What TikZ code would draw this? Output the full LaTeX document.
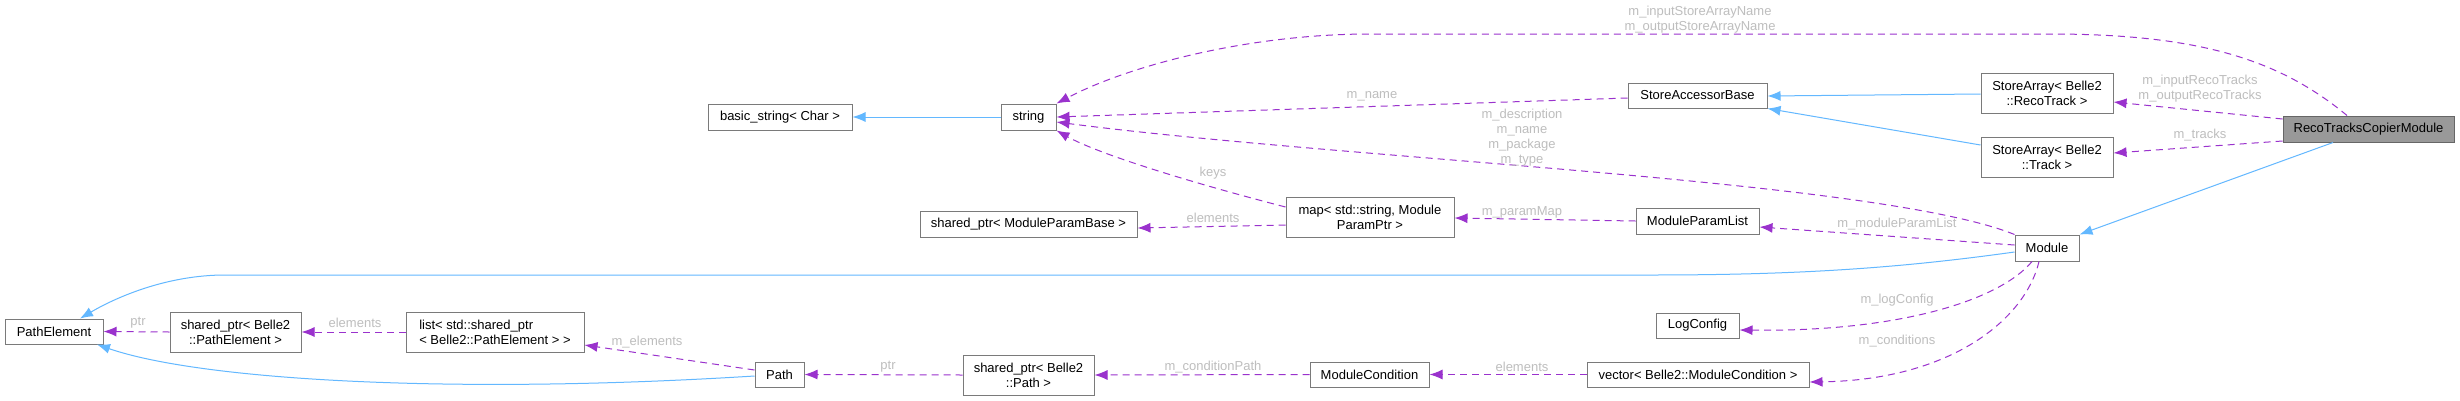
\documentclass[tikz,border=0pt]{standalone}
\usepackage{fontspec}
\setmainfont{Liberation Sans}
\usetikzlibrary{arrows.meta,calc}
\definecolor{nodeborder}{HTML}{7A7A7A}
\definecolor{rootfill}{HTML}{999999}
\definecolor{inhblue}{HTML}{63B8FF}
\definecolor{usepurple}{HTML}{9A32CD}
\definecolor{lblgray}{HTML}{BEBEBE}
\newcommand{\nf}{\fontsize{13}{15}\selectfont}
\tikzset{
  cls/.style={draw=nodeborder, fill=white, line width=1pt, inner sep=0pt, font=\nf, align=center},
  lbl/.style={text=lblgray, font=\nf, inner sep=0pt, align=center},
  inh/.style={draw=inhblue, line width=1pt, -{Latex[length=13pt,width=10pt]}},
  usage/.style={draw=usepurple, line width=1pt, dash pattern=on 7pt off 5pt, -{Latex[length=13pt,width=10pt]}},
}
\begin{document}
\begin{tikzpicture}[x=1pt,y=-1pt]
\fill[white] (0,0) rectangle (2460,400);
\useasboundingbox (0,0) rectangle (2460,400);
% nodes
\node[cls, minimum width=98pt, minimum height=25pt] (PE) at (54,331.5) {PathElement};
\node[cls, minimum width=131pt, minimum height=40pt] (spPE) at (235.5,332) {shared\_ptr< Belle2\\::PathElement >};
\node[cls, minimum width=178pt, minimum height=40pt, align=left] (listPE) at (495,332) {list< std::shared\_ptr\\< Belle2::PathElement > >};
\node[cls, minimum width=49pt, minimum height=25pt] (Path) at (779.5,374.5) {Path};
\node[cls, minimum width=144pt, minimum height=26pt] (bstr) at (780,117) {basic\_string< Char >};
\node[cls, minimum width=55pt, minimum height=26pt] (str) at (1028.5,117) {string};
\node[cls, minimum width=217pt, minimum height=26pt] (spMPB) at (1028.5,224) {shared\_ptr< ModuleParamBase >};
\node[cls, minimum width=168pt, minimum height=40pt] (map) at (1370,217) {map< std::string, Module\\ParamPtr >};
\node[cls, minimum width=131pt, minimum height=40pt] (spPath) at (1028.5,375) {shared\_ptr< Belle2\\::Path >};
\node[cls, minimum width=119pt, minimum height=25pt] (MC) at (1369.5,374.5) {ModuleCondition};
\node[cls, minimum width=222pt, minimum height=25pt] (vec) at (1698,374.5) {vector< Belle2::ModuleCondition >};
\node[cls, minimum width=139pt, minimum height=25pt] (SAB) at (1697.5,95.5) {StoreAccessorBase};
\node[cls, minimum width=132pt, minimum height=40pt] (SAR) at (2047,93) {StoreArray< Belle2\\::RecoTrack >};
\node[cls, minimum width=132pt, minimum height=40pt] (SAT) at (2047,157) {StoreArray< Belle2\\::Track >};
\node[cls, fill=rootfill, draw=black!60, minimum width=171pt, minimum height=26pt] (RTCM) at (2368.5,129) {RecoTracksCopierModule};
\node[cls, minimum width=123pt, minimum height=26pt] (MPL) at (1697.5,221) {ModuleParamList};
\node[cls, minimum width=64pt, minimum height=26pt] (Mod) at (2047,248) {Module};
\node[cls, minimum width=83pt, minimum height=25pt] (LC) at (1697.5,325.5) {LogConfig};
% inheritance edges
\draw[inh] (str.west) -- (bstr.east);
\draw[inh] ($(SAR.west)+(0,1)$) -- ($(SAB.east)+(0,0.5)$);
\draw[inh] ($(SAT.west)+(0,-12)$) -- (SAB.south east);
\draw[inh] ($(RTCM.south)+(-35.5,0)$) -- (Mod.north east);
\draw[inh] ($(Mod.west)+(0,4)$) .. controls (1900,268) and (1800,275) .. (1650,275) -- (225,275) .. controls (170,275) and (120,295) .. ($(PE.north)+(26,0)$);
\draw[inh] ($(Path.west)+(0,1.5)$) .. controls (450,395) and (200,380) .. ($(PE.south)+(43,0)$);
% usage edges
\draw[usage] (spPath.west) -- (Path.east);
\draw[usage] (MC.west) -- (spPath.east);
\draw[usage] (vec.west) -- (MC.east);
\draw[usage] ($(Mod.south)+(-8,0)$) .. controls (2025,320) and (1950,380) .. ($(vec.east)+(0,7.5)$);
\draw[usage] ($(Mod.south)+(-15,0)$) .. controls (2000,300) and (1900,332) .. ($(LC.east)+(0,4.5)$);
\draw[usage] ($(Mod.west)+(0,-3)$) -- ($(MPL.east)+(0,6)$);
\draw[usage] (MPL.west) -- ($(map.east)+(0,1)$);
\draw[usage] ($(map.west)+(0,8)$) -- ($(spMPB.east)+(0,4)$);
\draw[usage] ($(map.west)+(0,-10)$) .. controls (1200,185) and (1100,155) .. (str.south east);
\draw[usage] ($(SAB.west)+(0,2.5)$) -- (str.east);
\draw[usage] (Mod.north west) .. controls (1880,180) and (1350,160) .. ($(str.east)+(0,5)$);
\draw[usage] ($(RTCM.north)+(-21.5,0)$) .. controls (2280,60) and (2200,34) .. (2050,34) -- (1370,34) .. controls (1250,34) and (1130,65) .. (str.north east);
\draw[usage] ($(RTCM.west)+(0,-10)$) -- ($(SAR.east)+(0,9)$);
\draw[usage] ($(RTCM.west)+(0,12)$) -- ($(SAT.east)+(0,-4)$);
\draw[usage] ($(Path.west)+(0,-4.5)$) -- ($(listPE.east)+(0,13)$);
\draw[usage] (listPE.west) -- (spPE.east);
\draw[usage] (spPE.west) -- (PE.east);
% labels
\node[lbl] (l1) at (138,323) {ptr};
\node[lbl] (l2) at (355,323) {elements};
\node[lbl] (l3) at (647,342) {m\_elements};
\node[lbl] (l4) at (888,367) {ptr};
\node[lbl] (l5) at (1213,367) {m\_conditionPath};
\node[lbl] (l6) at (1522,367) {elements};
\node[lbl] (l7) at (1897,341) {m\_conditions};
\node[lbl] (l8) at (1897,300) {m\_logConfig};
\node[lbl] (l9) at (1897,224) {m\_moduleParamList};
\node[lbl] (l10) at (1522,212) {m\_paramMap};
\node[lbl] (l11) at (1213,218) {elements};
\node[lbl] (l12) at (1213,173) {keys};
\node[lbl] (l13) at (1372,96) {m\_name};
\node[lbl] (l14) at (1522,138) {m\_description\\m\_name\\m\_package\\m\_type};
\node[lbl] (l15) at (1700,19.5) {m\_inputStoreArrayName\\m\_outputStoreArrayName};
\node[lbl] (l16) at (2200,88.5) {m\_inputRecoTracks\\m\_outputRecoTracks};
\node[lbl] (l17) at (2200,135) {m\_tracks};
\end{tikzpicture}
\end{document}
